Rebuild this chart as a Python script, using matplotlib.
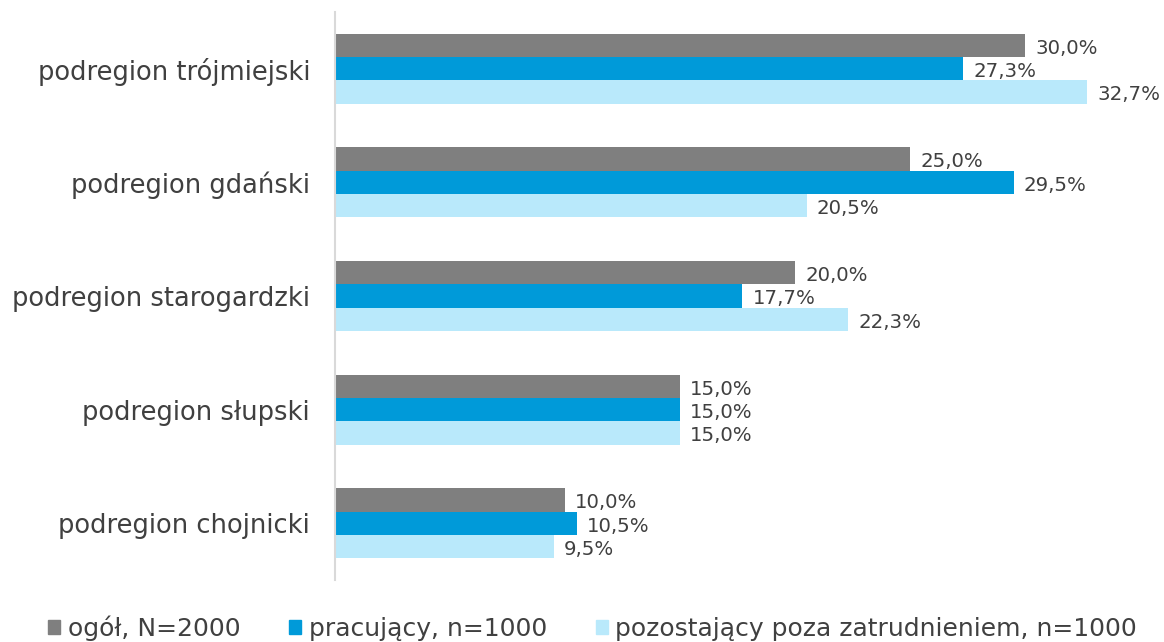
import matplotlib
matplotlib.use("Agg")
import matplotlib.pyplot as plt
import numpy as np
from matplotlib.patches import Patch

categories = ["podregion trójmiejski", "podregion gdański", "podregion starogardzki",
              "podregion słupski", "podregion chojnicki"]
series_names = ["ogół, N=2000", "pracujący, n=1000", "pozostający poza zatrudnieniem, n=1000"]
ogol = [30.0, 25.0, 20.0, 15.0, 10.0]
pracujacy = [27.3, 29.5, 17.7, 15.0, 10.5]
pozostajacy = [32.7, 20.5, 22.3, 15.0, 9.5]
colors = ["#7f7f7f", "#009ad9", "#b9e9fb"]

plt.rcParams['font.family'] = ['DejaVu Sans']
text_color = "#404040"

fig = plt.figure(figsize=(11.64, 6.42), dpi=100)
ax = fig.add_axes([335/1164, 1 - 580/642, (1140-335)/1164, 568/642])

y = np.arange(len(categories))
h = 0.205
for i, (vals, c) in enumerate(zip([ogol, pracujacy, pozostajacy], colors)):
    pos = y + (i - 1) * h
    ax.barh(pos, vals, height=h, color=c, label=series_names[i])
    for p, v in zip(pos, vals):
        ax.text(v + 0.45, p + 0.025, f"{v:.1f}%".replace(".", ","), va="center", ha="left",
                fontsize=14.2, color=text_color)

ax.set_ylim(len(categories) - 0.5, -0.5)
ax.set_xlim(0, 35)
ax.set_yticks(y)
ax.set_yticklabels(categories, fontsize=18.5, color=text_color)
ax.tick_params(axis='y', length=0, pad=18)
ax.set_xticks([])
for s in ["top", "right", "bottom"]:
    ax.spines[s].set_visible(False)
ax.spines["left"].set_color("#d9d9d9")
ax.spines["left"].set_linewidth(1.5)

handles = [Patch(color=c) for c in colors]
fig.legend(handles, series_names, loc="center", bbox_to_anchor=(0.509, 1 - 628/642),
           ncol=3, frameon=False, fontsize=18, handlelength=0.48, handleheight=0.48,
           handletextpad=0.3, columnspacing=1.95, labelcolor=text_color)

fig.savefig("out.png", dpi=100)
